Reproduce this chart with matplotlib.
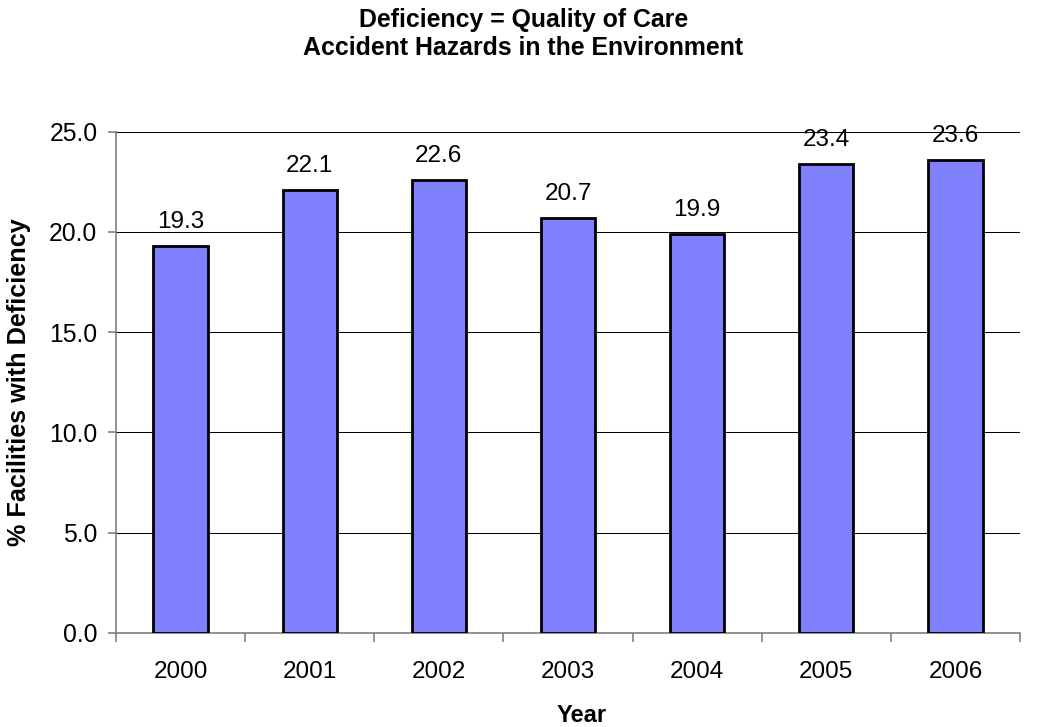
import matplotlib
matplotlib.use('Agg')
import matplotlib.pyplot as plt
import numpy as np

plt.rcParams['font.family'] = ['Liberation Sans', 'DejaVu Sans']

# Chart data
years = ['2000', '2001', '2002', '2003', '2004', '2005', '2006']
pct_deficiency = [19.3, 22.1, 22.6, 20.7, 19.9, 23.4, 23.6]
y_ticks = [0.0, 5.0, 10.0, 15.0, 20.0, 25.0]
title_lines = ['Deficiency = Quality of Care', 'Accident Hazards in the Environment']

fig = plt.figure(figsize=(10.39, 7.27), dpi=100)
ax = fig.add_axes([0.1116, 0.1293, 0.9817 - 0.1116, 0.8191 - 0.1293])

x = np.arange(len(years))
ax.bar(x, pct_deficiency, width=0.42, color='#8080FF', edgecolor='black',
       linewidth=2, zorder=3)

# value labels above bars
for xi, v in zip(x, pct_deficiency):
    ax.annotate(f"{v:.1f}", xy=(xi, v), xytext=(0, 12.6), textcoords='offset points',
                ha='center', va='baseline', fontsize=17.5, color='black', zorder=4)

ax.set_xlim(-0.5, len(years) - 0.5)
ax.set_ylim(0, 25)
ax.set_yticks(y_ticks)
ax.set_yticklabels([f"{t:.1f}" for t in y_ticks], fontsize=17.8)
ax.set_xticks(x)
ax.set_xticklabels(years, fontsize=17.5)
ax.set_xticks(np.arange(-0.5, len(years)), minor=True)

ax.yaxis.grid(True, color='black', linewidth=0.75, zorder=0)
ax.set_axisbelow(True)

ax.spines['top'].set_visible(False)
ax.spines['right'].set_visible(False)
ax.spines['left'].set_color('#808080')
ax.spines['bottom'].set_color('#808080')
ax.spines['left'].set_linewidth(1.2)
ax.spines['bottom'].set_linewidth(1.2)

ax.tick_params(axis='y', length=5.8, width=1.2, color='#808080', pad=7.5)
ax.tick_params(axis='x', which='major', length=0, pad=20.3)
ax.tick_params(axis='x', which='minor', length=6.5, width=1.2, color='#808080')

# axis titles placed in figure coords (Excel-style placement)
fig.text(0.5602, 1 - 722 / 727, 'Year', ha='center', va='baseline',
         fontsize=17, fontweight='bold')
fig.text(19.5 / 1039, 1 - 382.5 / 727, '% Facilities with Deficiency', rotation=90,
         ha='center', va='center', fontsize=18.2, fontweight='bold')

# two-line chart title
fig.text(0.5038, 1 - 27 / 727, title_lines[0], ha='center', va='baseline',
         fontsize=17.9, fontweight='bold')
fig.text(0.5038, 1 - 55 / 727, title_lines[1], ha='center', va='baseline',
         fontsize=17.9, fontweight='bold')

fig.savefig('out.png', dpi=100)
